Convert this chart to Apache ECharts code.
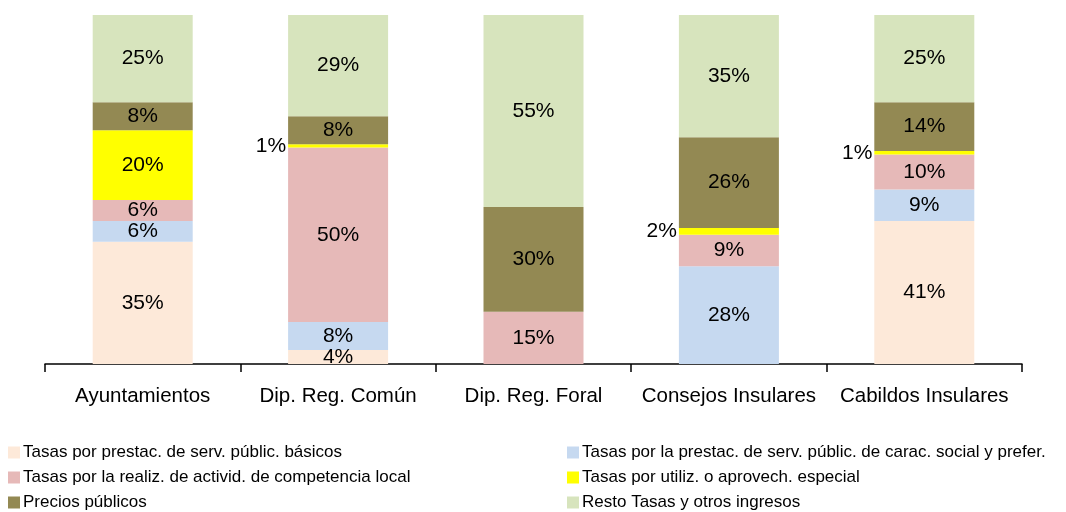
<!DOCTYPE html>
<html>
<head>
<meta charset="utf-8">
<script src="https://cdn.jsdelivr.net/npm/echarts@6/dist/echarts.min.js"></script>
<style>
  html, body { margin: 0; padding: 0; background: #fff; }
  #chart { width: 1066px; height: 512px; }
</style>
</head>
<body>
<div id="chart"></div>
<script>
// categorías del eje x
var categorias = ['Ayuntamientos', 'Dip. Reg. Común', 'Dip. Reg. Foral', 'Consejos Insulares', 'Cabildos Insulares']

var nombres = [
  'Tasas por prestac. de serv. públic. básicos',
  'Tasas por la prestac. de serv. públic. de carac. social y prefer.',
  'Tasas por la realiz. de activid. de competencia local',
  'Tasas por utiliz. o aprovech. especial',
  'Precios públicos',
  'Resto Tasas y otros ingresos'
]

// valores en % por serie
var basicos     = [35, 4, 0, 0, 41]
var social      = [6, 8, 0, 28, 9]
var competencia = [6, 50, 15, 9, 10]
var especial    = [20, 1, 0, 2, 1]
var precios     = [8, 8, 30, 26, 14]
var resto       = [25, 29, 55, 35, 25]

var colores = ['#FDE9D9', '#C6D9F0', '#E6B9B8', '#FFFF00', '#938953', '#D7E4BD']

var chart = echarts.init(document.getElementById('chart'))
var FONT = 'Liberation Sans, Arial, sans-serif'

function serie(nombre, valores, color) {
  return {
    name: nombre,
    type: 'bar',
    stack: 'total',
    barWidth: 100,
    itemStyle: { color: color },
    label: {
      show: true,
      position: 'inside',
      color: '#000',
      fontSize: 21,
      fontFamily: FONT,
      formatter: function (p) { return p.value > 0 ? Math.round(p.value) + '%' : '' }
    },
    data: valores.map(function (v) {
      if (v > 0 && v < 3) {
        // las etiquetas pequeñas van a la izquierda de la barra
        return { value: v, label: { position: 'left', distance: 2 } }
      }
      return v
    })
  }
}

var leyenda = {
  orient: 'vertical',
  height: 90,
  itemWidth: 12,
  itemHeight: 12,
  itemGap: 8,
  icon: 'rect',
  textStyle: { fontSize: 17, color: '#000', fontFamily: FONT, padding: [0, 0, 0, -2] },
  selectedMode: false
}

var option = {
  backgroundColor: '#fff',
  animation: false,
  grid: { left: 45, right: 44, top: 15, bottom: 148 },
  legend: [
    Object.assign({}, leyenda, { left: 3, top: 439, data: [nombres[0], nombres[2], nombres[4]] }),
    Object.assign({}, leyenda, { left: 562, top: 439, data: [nombres[1], nombres[3], nombres[5]] })
  ],
  xAxis: {
    type: 'category',
    data: categorias,
    axisLine: { lineStyle: { color: '#000', width: 1.5 } },
    axisTick: { show: true, interval: 0, length: 8, lineStyle: { color: '#000', width: 1.5 } },
    axisLabel: { interval: 0, color: '#000', fontSize: 20.5, fontFamily: FONT, margin: 22 }
  },
  yAxis: {
    type: 'value',
    min: 0,
    max: 100,
    show: false
  },
  series: [
    serie(nombres[0], basicos, colores[0]),
    serie(nombres[1], social, colores[1]),
    serie(nombres[2], competencia, colores[2]),
    serie(nombres[3], especial, colores[3]),
    serie(nombres[4], precios, colores[4]),
    serie(nombres[5], resto, colores[5])
  ]
}
chart.setOption(option)
</script>
</body>
</html>
